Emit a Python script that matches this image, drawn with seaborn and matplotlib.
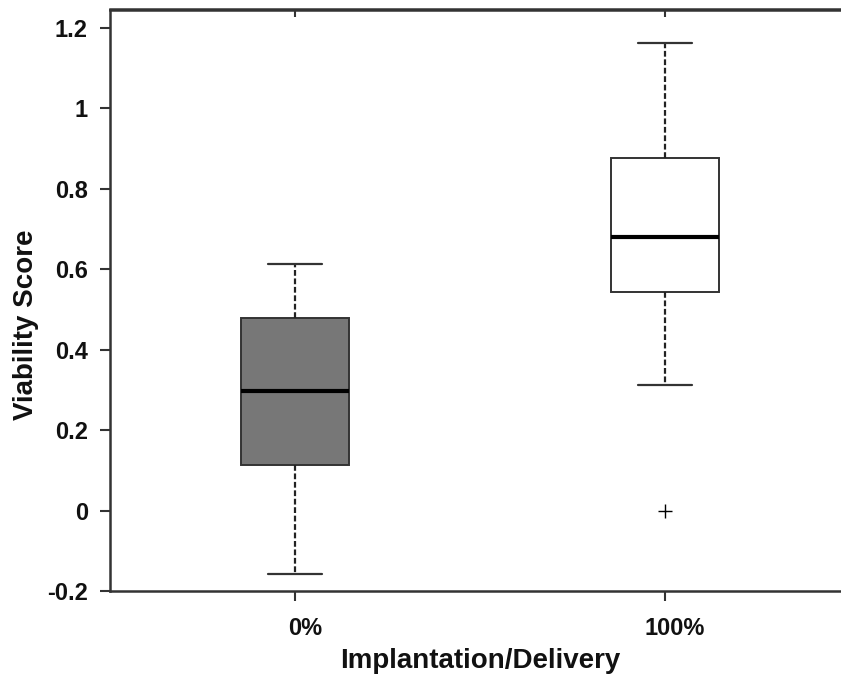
import matplotlib
matplotlib.use("Agg")
import matplotlib.pyplot as plt
import matplotlib.transforms as mtransforms
import numpy as np
import pandas as pd
import seaborn as sns

# ---- data ----
categories = ["0%", "100%"]
# values chosen so that quartiles / whiskers / outlier match the reference boxes
scores_0 = [-0.157, 0.112, 0.297, 0.478, 0.612]
scores_100 = [0.0, 0.313, 0.542, 0.542, 0.680, 0.876, 0.876, 1.162, 1.162]
box_colors = ["#777777", "#ffffff"]
y_ticks = [-0.2, 0, 0.2, 0.4, 0.6, 0.8, 1, 1.2]
y_tick_labels = ["-0.2", "0", "0.2", "0.4", "0.6", "0.8", "1", "1.2"]
x_label = "Implantation/Delivery"
y_label = "Viability Score"

df = pd.DataFrame({
    "group": [categories[0]] * len(scores_0) + [categories[1]] * len(scores_100),
    "score": scores_0 + scores_100,
})

sns.set_style("ticks")
plt.rcParams["font.family"] = ["Liberation Sans", "DejaVu Sans"]
plt.rcParams["font.weight"] = "bold"
plt.rcParams["text.color"] = "#111111"
plt.rcParams["axes.labelcolor"] = "#111111"

W, H = 841, 677
fig = plt.figure(figsize=(W / 100, H / 100), dpi=100)
ax = fig.add_axes([110 / W, (H - 591) / H, 740 / W, (591 - 9.5) / H])

line_col = "#333333"
sns.boxplot(
    data=df, x="group", y="score", hue="group", order=categories,
    hue_order=categories, palette=dict(zip(categories, box_colors)),
    saturation=1, width=0.29, linecolor=line_col, linewidth=1.4,
    legend=False, ax=ax,
    medianprops=dict(color="black", linewidth=3.0),
    whiskerprops=dict(color="#222222", linewidth=1.6, linestyle=(0, (2.6, 1.2))),
    capprops=dict(color=line_col, linewidth=1.6),
    flierprops=dict(marker="+", markersize=10, markeredgecolor="black",
                    markeredgewidth=1.0),
)

ax.set_xlim(-0.5, 1.5)
ax.set_ylim(-0.2, 1.245)
ax.set_yticks(y_ticks)
ax.set_yticklabels(y_tick_labels)

for side in ["left", "bottom", "top"]:
    ax.spines[side].set_visible(True)
    ax.spines[side].set_linewidth(1.8)
    ax.spines[side].set_color("#333333")
ax.spines["right"].set_visible(False)

ax.tick_params(axis="both", direction="out", length=7, width=1.5,
               color="#333333", labelsize=17, labelcolor="#111111")
ax.tick_params(axis="y", pad=9)
ax.tick_params(axis="x", pad=12)

# shift x tick labels slightly right, as in the reference
offset = mtransforms.ScaledTranslation(10 / 100, 0, fig.dpi_scale_trans)
for lab in ax.get_xticklabels():
    lab.set_transform(lab.get_transform() + offset)
    lab.set_fontweight("bold")
for lab in ax.get_yticklabels():
    lab.set_fontweight("bold")

# inward ticks on top spine
sec = ax.secondary_xaxis("top")
sec.set_xticks([0, 1], labels=["", ""])
sec.tick_params(direction="in", length=6, width=1.5, color="#333333")
sec.spines["top"].set_linewidth(1.8)
sec.spines["top"].set_color("#333333")

ax.set_xlabel(x_label, fontsize=20, fontweight="bold")
ax.set_ylabel(y_label, fontsize=20, fontweight="bold")
ax.xaxis.set_label_coords(0.5, -0.098)
ax.yaxis.set_label_coords(-0.0955, 0.458)

fig.savefig("out.png", dpi=100, facecolor="white")
